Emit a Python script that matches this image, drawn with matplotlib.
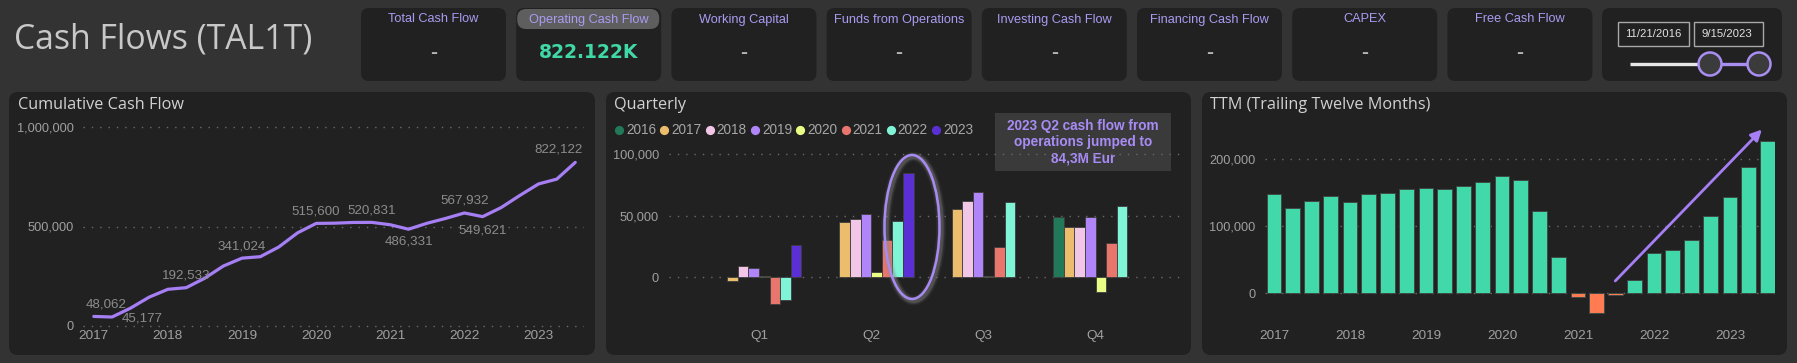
import numpy as np
import pandas as pd
import matplotlib
matplotlib.use("Agg")
import matplotlib.pyplot as plt
from matplotlib.patches import FancyBboxPatch, Ellipse, Circle, Rectangle
from matplotlib.ticker import FuncFormatter

# ------------------------------------------------------------------ data
page_title = "Cash Flows (TAL1T)"
kpi_titles = ["Total Cash Flow", "Operating Cash Flow", "Working Capital",
              "Funds from Operations", "Investing Cash Flow",
              "Financing Cash Flow", "CAPEX", "Free Cash Flow"]
kpi_values = ["-", "822.122K", "-", "-", "-", "-", "-", "-"]
date_start = "11/21/2016"
date_end = "9/15/2023"

quarters = pd.period_range("2016Q4", "2023Q2", freq="Q")
cumulative = [48062, 45177, 89900, 145200, 184500, 192533, 239900, 301400,
              341024, 348300, 397000, 467800, 515600, 516700, 520300, 520831,
              508800, 486331, 516300, 540700, 567932, 549621, 595100, 656100,
              713800, 738100, 822122]
cum_label_idx = [0, 1, 5, 8, 12, 15, 17, 20, 21, 26]
year_ticks = [2017, 2018, 2019, 2020, 2021, 2022, 2023]

quarter_names = ["Q1", "Q2", "Q3", "Q4"]
series_years = ["2016", "2017", "2018", "2019", "2020", "2021", "2022", "2023"]
q2016 = [np.nan, np.nan, np.nan, 48500]
q2017 = [-2900, 44700, 55300, 40400]
q2018 = [8700, 46900, 62000, 41000]
q2019 = [7300, 51000, 68800, 49000]
q2020 = [1100, 4100, 1000, -12000]
q2021 = [-22000, 30000, 24400, 28000]
q2022 = [-18300, 45500, 61000, 57700]
q2023 = [26000, 84300, np.nan, np.nan]
quarterly = [q2016, q2017, q2018, q2019, q2020, q2021, q2022, q2023]
note_text = "2023 Q2 cash flow from\noperations jumped to\n84,3M Eur"

ttm = [147400, 127500, 137000, 144400, 136000, 147400, 149400, 155800,
       156300, 154800, 159300, 165800, 174200, 168200, 122000, 54100,
       -6500, -29800, -3500, 19900, 59600, 63500, 78400, 114600,
       143900, 187600, 226800]
arrow_start = (2021.49, 18000)
arrow_end = (2023.42, 244000)

# ------------------------------------------------------------------ style
W, H = 1797, 363
BG = "#333333"
PANEL = "#212121"
PURPLE = "#a67ff5"
TICK_C = "#a0a0a0"
GRID_C = "#6a6a6a"
NARROW = ["Liberation Sans"]
SANS = ["Liberation Sans"]
UI = ["Open Sans", "DejaVu Sans"]
TICK_FS = 9.2
series_colors = ["#22795a", "#ecbd6d", "#f2c6e6", "#b085fa", "#e9fd86",
                 "#e8766c", "#7ff4d6", "#5a2fd4"]
POS_C = "#41d9aa"
NEG_C = "#ff7b51"


def decimal_year(p):
    d = p.end_time
    days = 366 if d.is_leap_year else 365
    return d.year + d.dayofyear / days


xq = np.array([decimal_year(q) for q in quarters])

fig = plt.figure(figsize=(W / 100, H / 100), dpi=100)
fig.patch.set_facecolor(BG)
bg = fig.add_axes([0, 0, 1, 1], zorder=0)
bg.set_xlim(0, W)
bg.set_ylim(H, 0)
bg.axis("off")


def rbox(ax, x0, y0, x1, y1, color, r=8, ec="none", lw=0, z=1):
    p = FancyBboxPatch((x0 + r, y0 + r), (x1 - x0 - 2 * r), (y1 - y0 - 2 * r),
                       boxstyle=f"round,pad={r}", fc=color, ec=ec, lw=lw, zorder=z)
    ax.add_patch(p)


def add_ax(l, r, t, b):
    ax = fig.add_axes([l / W, 1 - b / H, (r - l) / W, (b - t) / H], zorder=2)
    ax.set_facecolor("none")
    for s in ax.spines.values():
        s.set_visible(False)
    ax.tick_params(length=0, colors=TICK_C)
    ax.yaxis.grid(True, color=GRID_C, linestyle=(0, (1, 5)), lw=1.0)
    ax.set_axisbelow(True)
    return ax


def ylim_for(v1, p1, v2, p2, top, bottom):
    scale = (p1 - p2) / (v2 - v1)
    return (v1 + (p1 - bottom) / scale, v1 + (p1 - top) / scale)


def xlim_for(v1, p1, v2, p2, left, right):
    scale = (p2 - p1) / (v2 - v1)
    return (v1 + (left - p1) / scale, v1 + (right - p1) / scale)


def style_ticks(ax, ypad, xpad, fs=TICK_FS):
    ax.tick_params(axis="y", pad=ypad, labelsize=fs, colors=TICK_C)
    ax.tick_params(axis="x", pad=xpad, labelsize=fs + 0.5, colors=TICK_C)
    for lab in ax.get_xticklabels() + ax.get_yticklabels():
        lab.set_family(NARROW)


fmt = FuncFormatter(lambda v, p: f"{v:,.0f}")

# ------------------------------------------------------------------ header
bg.text(14, 40, page_title, fontsize=24.3, color="#c8c8c8", family=UI,
        va="center", ha="left")

card_x0 = 361
card_step = 155.2
card_w = 145
for k, (t, v) in enumerate(zip(kpi_titles, kpi_values)):
    x0 = card_x0 + k * card_step
    rbox(bg, x0, 8, x0 + card_w, 81, PANEL, r=8)
    cx = x0 + card_w / 2
    if v != "-":
        rbox(bg, x0 + 1, 9, x0 + card_w - 2, 29, "#5e5e5e", r=9, z=2)
        bg.text(cx, 19.5, t, fontsize=9.2, color="#a99cf2", family=SANS,
                ha="center", va="center", zorder=3)
        bg.text(cx, 53, v, fontsize=13.5, color="#40d8a6", family=["DejaVu Sans"],
                weight="bold", ha="center", va="center", zorder=3)
    else:
        bg.text(cx, 19.5, t, fontsize=9.2, color="#a99cf2", family=SANS,
                ha="center", va="center", zorder=3)
        bg.text(cx, 53, v, fontsize=15, color="#b4b4b4", family=SANS,
                weight="bold", ha="center", va="center", zorder=3)

# slicer card
rbox(bg, 1602, 8, 1782, 81, PANEL, r=8)
bg.add_patch(Rectangle((1618, 22), 71, 24, fc=PANEL, ec="#a8a8a8", lw=1.0, zorder=3))
bg.add_patch(Rectangle((1694, 22), 69, 24, fc=PANEL, ec="#a8a8a8", lw=1.0, zorder=3))
bg.text(1653.5, 34, date_start, fontsize=8.2, color="#e2e2e2", family=SANS,
        ha="center", va="center", zorder=4)
bg.text(1727, 34, date_end, fontsize=8.2, color="#e2e2e2", family=SANS,
        ha="center", va="center", zorder=4)
bg.plot([1630, 1710], [64, 64], color="#e6e6e6", lw=2.4, zorder=3,
        solid_capstyle="butt")
bg.plot([1710, 1759], [64, 64], color="#a98ef2", lw=2.4, zorder=3)
for cx in (1710, 1759):
    bg.add_patch(Circle((cx, 64), 11.5, fc="#3b3b3b", ec="#a98ef2", lw=1.8, zorder=4))

# ------------------------------------------------------------------ panels
for (x0, x1) in [(9, 595), (606, 1191), (1202, 1787)]:
    rbox(bg, x0, 92, x1, 355, PANEL, r=9)
for (tx, txt) in [(18, "Cumulative Cash Flow"), (614, "Quarterly"),
                  (1210, "TTM (Trailing Twelve Months)")]:
    bg.text(tx, 105, txt, fontsize=11.7, color="#d2d2d2", family=UI,
            ha="left", va="center")

# ------------------------------------------------------------------ cumulative line
ax1 = add_ax(83, 584, 115, 328)
ax1.plot(xq, cumulative, color=PURPLE, lw=2.3, solid_joinstyle="round",
         solid_capstyle="round")
ax1.set_ylim(*ylim_for(0, 326, 1e6, 127, 115, 328))
ax1.set_xlim(*xlim_for(2017, 93.8, 2023, 538.5, 83, 584))
ax1.set_yticks([0, 500000, 1000000])
ax1.yaxis.set_major_formatter(fmt)
ax1.set_xticks(year_ticks)
ax1.set_xticklabels([str(y) for y in year_ticks])
style_ticks(ax1, ypad=6.8, xpad=1.5)
label_offsets = {0: (12, 12), 1: (30, -1), 5: (0, 12), 8: (0, 11.5), 12: (0, 11.7),
                 15: (0, 11.7), 17: (0, -12), 20: (0, 12.7), 21: (0, -13.4),
                 26: (-17, 13)}
for i in cum_label_idx:
    dx, dy = label_offsets[i]
    ax1.annotate(f"{cumulative[i]:,}", (xq[i], cumulative[i]), xytext=(dx, dy),
                 textcoords="offset pixels", ha="center", va="center",
                 fontsize=9.6, color="#8c8c8c", family=NARROW)

# ------------------------------------------------------------------ quarterly bars
ax2 = add_ax(669, 1181, 145, 328)
bw = 0.0945
for j, vals in enumerate(quarterly):
    pos = np.arange(len(quarter_names)) + (j - 3.5) * bw
    ax2.bar(pos, vals, width=bw, color=series_colors[j], edgecolor="#3d3d3d",
            lw=0.6)
ax2.set_ylim(*ylim_for(0, 277, 100000, 154, 145, 328))
ax2.set_xlim(*xlim_for(0, 759, 3, 1095.6, 669, 1181))
ax2.set_yticks([0, 50000, 100000])
ax2.yaxis.set_major_formatter(fmt)
ax2.set_xticks(range(len(quarter_names)))
ax2.set_xticklabels(quarter_names)
style_ticks(ax2, ypad=7.2, xpad=1.5)

# legend
for j, yname in enumerate(series_years):
    lx = 619 + 45.3 * j
    bg.scatter([lx], [130], s=44, color=series_colors[j], zorder=3, lw=0)
    bg.text(lx + 7, 130.5, yname, fontsize=9.8, color="#a6a6a6", family=NARROW,
            ha="left", va="center", zorder=3)

# note box
bg.add_patch(Rectangle((995, 113), 176, 58, fc="#3a3a3a", ec="none", zorder=3))
bg.text(1083, 142, note_text, fontsize=9.8, color="#a88cf6", family=SANS,
        weight="bold", ha="center", va="center", linespacing=1.22, zorder=4)

# overlay for ellipse
ov = fig.add_axes([0, 0, 1, 1], zorder=5)
ov.set_xlim(0, W)
ov.set_ylim(H, 0)
ov.axis("off")
ov.patch.set_alpha(0)
for lw_, a_ in [(7, 0.10), (5, 0.18), (3.5, 0.28)]:
    ov.add_patch(Ellipse((913.5, 228.5), 55, 144, fc="none", ec="#8a8a8a",
                         lw=lw_, alpha=a_))
ov.add_patch(Ellipse((912, 227), 55, 144, fc="none", ec="#a88af4", lw=1.8))

# ------------------------------------------------------------------ TTM bars
ax3 = add_ax(1265, 1775, 115, 328)
colors3 = [POS_C if v >= 0 else NEG_C for v in ttm]
ax3.bar(xq, ttm, width=0.197, color=colors3, edgecolor="#3f4a45", lw=0.7)
ax3.set_ylim(*ylim_for(0, 293, 200000, 159, 115, 328))
ax3.set_xlim(*xlim_for(2017, 1274, 2023, 1730, 1265, 1775))
ax3.set_yticks([0, 100000, 200000])
ax3.yaxis.set_major_formatter(fmt)
ax3.set_xticks(year_ticks)
ax3.set_xticklabels([str(y) for y in year_ticks])
style_ticks(ax3, ypad=7.0, xpad=1.5)
ax3.annotate("", xy=arrow_end, xytext=arrow_start,
             arrowprops=dict(arrowstyle="-|>", color=PURPLE, lw=2.0,
                             mutation_scale=16, shrinkA=0, shrinkB=0))

fig.savefig("out.png", dpi=100, facecolor=BG)
